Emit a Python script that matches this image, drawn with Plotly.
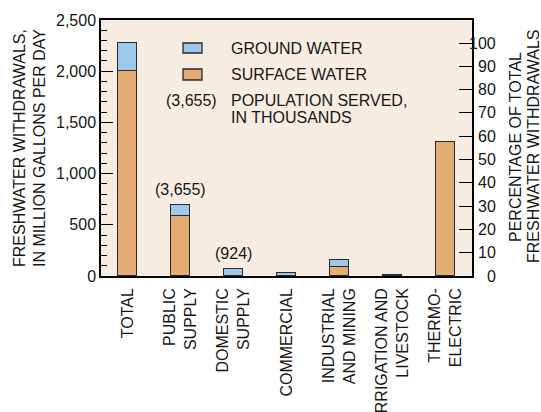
import plotly.graph_objects as go

# Freshwater withdrawals by category, million gallons per day
categories = ["TOTAL", "PUBLIC<br>SUPPLY", "DOMESTIC<br>SUPPLY", "COMMERCIAL",
              "INDUSTRIAL<br>AND MINING", "IRRIGATION AND<br>LIVESTOCK", "THERMO-<br>ELECTRIC"]
surface_water = [2000, 585, 0, 0, 85, 8, 1305]
ground_water = [275, 108, 68, 30, 68, 4, 6]
population_served = {1: "(3,655)", 2: "(924)"}  # thousands, keyed by category index

left_ticks = [0, 500, 1000, 1500, 2000, 2500]
left_tick_text = ["0", "500", "1,000", "1,500", "2,000", "2,500"]
pct_ticks = list(range(0, 101, 10))

BLUE = "#9dc8e9"
ORANGE = "#e4ac72"
BG = "#f6ece2"
EDGE = "#2a2a2a"
TXT = "#161616"
FONT = "Liberation Sans, Arial, sans-serif"
FS = 16

total = surface_water[0] + ground_water[0]
y_max = 2500
pct_max = y_max / total * 100

# plot-area geometry in pixels (used for placing the key and titles)
L, R, T, B = 101, 472, 20, 276


def px(x):
    return (x - L) / (R - L)


def py(y):
    return (B - y) / (B - T)


font = dict(size=FS, color=TXT, family=FONT)
xs = list(range(len(categories)))

fig = go.Figure()
fig.add_trace(go.Bar(x=xs, y=surface_water, name="SURFACE WATER",
                     marker=dict(color=ORANGE, line=dict(color=EDGE, width=1.4)),
                     width=0.37, showlegend=False))
fig.add_trace(go.Bar(x=xs, y=ground_water, name="GROUND WATER",
                     marker=dict(color=BLUE, line=dict(color=EDGE, width=1.4)),
                     width=0.37, showlegend=False))
# invisible trace carrying the percentage axis
fig.add_trace(go.Scatter(x=[0], y=[0], yaxis="y2", mode="markers",
                         marker=dict(opacity=0), showlegend=False, hoverinfo="skip"))

annotations = []
for i, label in population_served.items():
    annotations.append(dict(x=i, y=surface_water[i] + ground_water[i], text=label,
                            showarrow=False, yanchor="bottom", yshift=5, font=font))

# percentage labels, right-aligned beside the right axis
for v in pct_ticks:
    annotations.append(dict(xref="paper", yref="y2", x=px(498), y=v, text=str(v),
                            showarrow=False, xanchor="right", yanchor="middle", font=font))

# key
shapes = [
    dict(type="rect", xref="paper", yref="paper", x0=px(183), x1=px(202), y0=py(53), y1=py(43),
         fillcolor=BLUE, line=dict(color=EDGE, width=1.3)),
    dict(type="rect", xref="paper", yref="paper", x0=px(183), x1=px(202), y0=py(80), y1=py(69),
         fillcolor=ORANGE, line=dict(color=EDGE, width=1.3)),
]


def text_at(x, y, s, anchor="left", angle=0):
    return dict(xref="paper", yref="paper", x=px(x), y=py(y), text=s, textangle=angle,
                showarrow=False, xanchor=anchor, yanchor="middle", font=font)


annotations += [
    text_at(229, 48, "GROUND WATER"),
    text_at(229, 74, "SURFACE WATER"),
    text_at(191, 100, "(3,655)", anchor="center"),
    text_at(229, 100, "POPULATION SERVED,"),
    text_at(229, 117, "IN THOUSANDS"),
    # axis titles
    text_at(19, 148, "FRESHWATER WITHDRAWALS,", anchor="center", angle=-90),
    text_at(39, 148, "IN MILLION GALLONS PER DAY", anchor="center", angle=-90),
    text_at(515, 147, "PERCENTAGE OF TOTAL", anchor="center", angle=-90),
    text_at(533, 147, "FRESHWATER WITHDRAWALS", anchor="center", angle=-90),
]

fig.update_layout(
    width=541, height=412,
    margin=dict(l=L, r=541 - R, t=T, b=412 - B, autoexpand=False),
    paper_bgcolor="white", plot_bgcolor=BG,
    barmode="stack", bargap=0,
    font=font,
    shapes=shapes, annotations=annotations,
    xaxis=dict(range=[-0.5, len(categories) - 0.5], tickvals=xs,
               ticktext=categories, tickangle=-90, showline=True, linecolor="black",
               linewidth=1.5, mirror=True, showgrid=False, zeroline=False, ticks="",
               ticklabelstandoff=4, tickfont=font),
    yaxis=dict(range=[0, y_max], tickvals=left_ticks, ticktext=left_tick_text,
               ticks="inside", ticklen=12, tickwidth=1.4, tickcolor="black",
               minor=dict(dtick=100, ticks="inside", ticklen=6, tickwidth=1.2, tickcolor="black"),
               showline=True, linecolor="black", linewidth=1.5, mirror=True,
               showgrid=False, zeroline=False, tickfont=font),
    yaxis2=dict(overlaying="y", side="right", range=[0, pct_max],
                tickvals=pct_ticks, ticks="inside", ticklen=13, tickwidth=1.4,
                tickcolor="black", showgrid=False, zeroline=False, showline=False,
                showticklabels=False),
)

fig.write_html("out.html")
